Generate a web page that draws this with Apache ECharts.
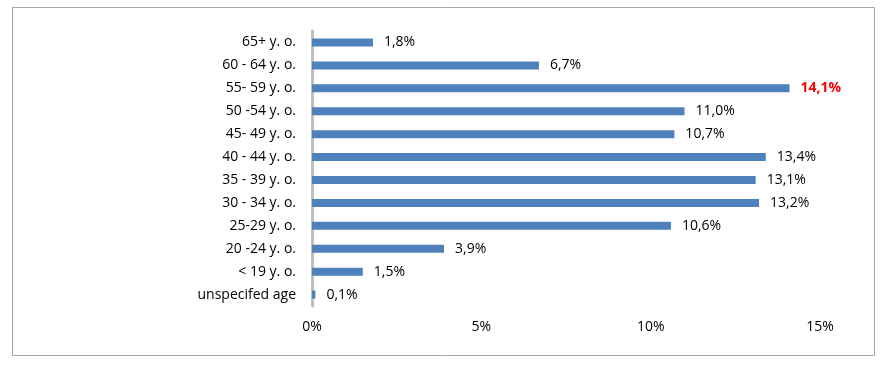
<!DOCTYPE html>
<html><head><meta charset="utf-8">
<script src="https://cdn.jsdelivr.net/npm/echarts@6/dist/echarts.min.js"></script>
<style>html,body{margin:0;padding:0;background:#fff}#c{width:885px;height:367px}</style>
</head><body><div id="c"></div>
<script>
const categories = ['65+ y. o.','60 - 64 y. o.','55- 59 y. o.','50 -54 y. o.','45- 49 y. o.','40 - 44 y. o.','35 - 39 y. o.','30 - 34 y. o.','25-29 y. o.','20 -24 y. o.','< 19 y. o.','unspecifed age'];
const values = [1.8, 6.7, 14.1, 11.0, 10.7, 13.4, 13.1, 13.2, 10.6, 3.9, 1.5, 0.1];
const highlightIndex = 2;
const xTicks = [0, 5, 10, 15];

const font = 'Open Sans';
const chart = echarts.init(document.getElementById('c'));
chart.setOption({
  animation: false,
  graphic: [{type:'rect', shape:{x:12.5, y:7.5, width:862, height:348}, style:{fill:'none', stroke:'#a6a6a6', lineWidth:1}, silent:true}],
  grid: {left: 312, right: 65, top: 31, bottom: 61},
  xAxis: {
    type: 'value', min: 0, max: 15, interval: 5,
    axisLine: {show: false}, axisTick: {show: false}, splitLine: {show: false},
    axisLabel: {formatter: v => v + '%', color: '#000', fontFamily: font, fontSize: 14, margin: 14}
  },
  yAxis: {
    type: 'category', data: categories, inverse: true,
    axisLine: {show: true, lineStyle: {color: '#bfbfbf', width: 3}},
    axisTick: {show: false},
    axisLabel: {color: '#000', fontFamily: font, fontSize: 14, margin: 16}
  },
  series: [{
    type: 'bar', barWidth: 8,
    data: values.map((v, i) => i === highlightIndex ? {value: v, label: {color: '#ff0000', fontWeight: 'bold'}} : v),
    itemStyle: {color: '#4f81bd'},
    label: {show: true, position: 'right', distance: 11, color: '#000', fontFamily: font, fontSize: 14,
      formatter: p => p.value.toFixed(1).replace('.', ',') + '%'}
  }]
});
</script></body></html>
